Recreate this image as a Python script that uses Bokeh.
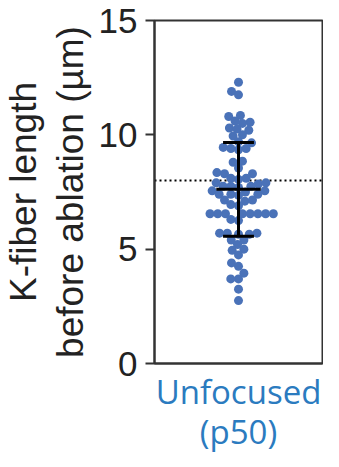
import numpy as np
from bokeh.plotting import figure
from bokeh.models import Range1d, FixedTicker, Span
from bokeh.embed import file_html
from bokeh.resources import INLINE

# ---- data ----
categories = ["Unfocused\n(p50)"]
lengths = [
    12.3, 11.9, 11.75,
    10.85, 10.8, 10.6, 10.55, 10.5, 10.3, 10.25, 10.2, 10.0, 9.95,
    9.7, 9.65, 9.45, 9.4, 9.4, 9.35,
    8.85, 8.8, 8.55,
    8.35, 8.3, 8.3,
    8.1, 8.1, 8.05,
    7.9, 7.85, 7.9,
    7.75, 7.75, 7.7, 7.75,
    7.55, 7.55, 7.5,
    7.4, 7.4, 7.35, 7.4,
    7.15, 7.1, 7.15,
    6.95, 6.9,
    6.55, 6.55, 6.55, 6.55, 6.55, 6.55, 6.55, 6.55,
    6.3, 6.25,
    5.7, 5.7, 5.65, 5.7, 5.65,
    5.4, 5.4,
    5.2,
    5.0, 4.95,
    4.75,
    4.4,
    4.25,
    3.95,
    3.7, 3.7,
    3.25,
    2.75,
]
mean_len = [7.62]
sd_len = [2.05]
ref_line = 8.0
y_ticks = [0, 5, 10, 15]

# ---- layout ----
W, H = 323, 457
ML, MR, MT, MB = 148, 1, 20, 93
fw = W - ML - MR
fh = H - MT - MB
x_lo, x_hi = -1.0, 1.0
y_lo, y_hi = 0.0, 15.0
px_x = fw / (x_hi - x_lo)
px_y = fh / (y_hi - y_lo)
DOT = 9
SPACING = 8.0


def swarm(vals, d):
    vals = np.asarray(vals, dtype=float)
    order = np.argsort(vals, kind="stable")
    placed = []
    xs = np.zeros(len(vals))
    for i in order:
        y = vals[i] * px_y
        cands = [0.0]
        for (qx, qy) in placed:
            dy = y - qy
            if abs(dy) < d:
                dx = np.sqrt(d * d - dy * dy)
                cands += [qx + dx, qx - dx]
        cands.sort(key=lambda c: (abs(c), c))
        for c in cands:
            if all((c - qx) ** 2 + (y - qy) ** 2 >= d * d - 1e-6 for qx, qy in placed):
                xs[i] = c
                placed.append((c, y))
                break
    return xs / px_x


xs = swarm(lengths, SPACING)

p = figure(width=W, height=H, x_range=Range1d(x_lo, x_hi), y_range=Range1d(y_lo, y_hi),
           output_backend="svg", toolbar_location=None,
           min_border_left=ML, min_border_right=MR, min_border_top=MT, min_border_bottom=MB)
p.grid.visible = False
p.outline_line_color = "#333333"
p.outline_line_width = 2
p.background_fill_color = "white"
p.border_fill_color = "white"

# y axis
ya = p.yaxis[0]
ya.ticker = FixedTicker(ticks=y_ticks)
ya.minor_tick_line_color = None
ya.major_tick_out = 9
ya.major_tick_in = 0
ya.major_tick_line_width = 2
ya.major_tick_line_color = "#333333"
ya.axis_line_width = 2
ya.axis_line_color = "#333333"
ya.major_label_text_font = "Liberation Sans"
ya.major_label_text_font_size = "35px"
ya.major_label_text_color = "#222222"
ya.major_label_standoff = 8
ya.axis_label = "K-fiber length\nbefore ablation (µm)"
ya.axis_label_text_font = "Liberation Sans"
ya.axis_label_text_font_size = "37px"
ya.axis_label_text_font_style = "normal"
ya.axis_label_text_color = "#222222"
ya.axis_label_text_line_height = 1.13
ya.axis_label_standoff = 5

# x axis
xa = p.xaxis[0]
xa.ticker = FixedTicker(ticks=[0])
xa.major_label_overrides = {0: categories[0]}
xa.minor_tick_line_color = None
xa.major_tick_out = 0
xa.major_tick_in = 0
xa.axis_line_width = 2
xa.axis_line_color = "#333333"
xa.major_label_text_font = "Open Sans"
xa.major_label_text_font_size = "33px"
xa.major_label_text_color = "#2b7bbf"
xa.major_label_text_line_height = 0.9
xa.major_label_standoff = 5

# reference dotted line
p.add_layout(Span(location=ref_line, dimension="width", line_color="black",
                  line_width=2, line_dash="2 3", level="underlay"))

# points
p.scatter(x=xs, y=lengths, size=DOT, fill_color="#4a72b8", line_color=None)

# mean +/- SD
cap = 16 / px_x
mw = 23 / px_x
m = np.array(mean_len)
s = np.array(sd_len)
p.segment(x0=[0], y0=m - s, x1=[0], y1=m + s, line_color="black", line_width=3)
p.segment(x0=[-cap, -cap], y0=np.r_[m + s, m - s], x1=[cap, cap], y1=np.r_[m + s, m - s],
          line_color="black", line_width=3)
p.segment(x0=[-mw], y0=m, x1=[mw], y1=m, line_color="black", line_width=3)

open("out.html", "w").write(file_html(p, INLINE))
